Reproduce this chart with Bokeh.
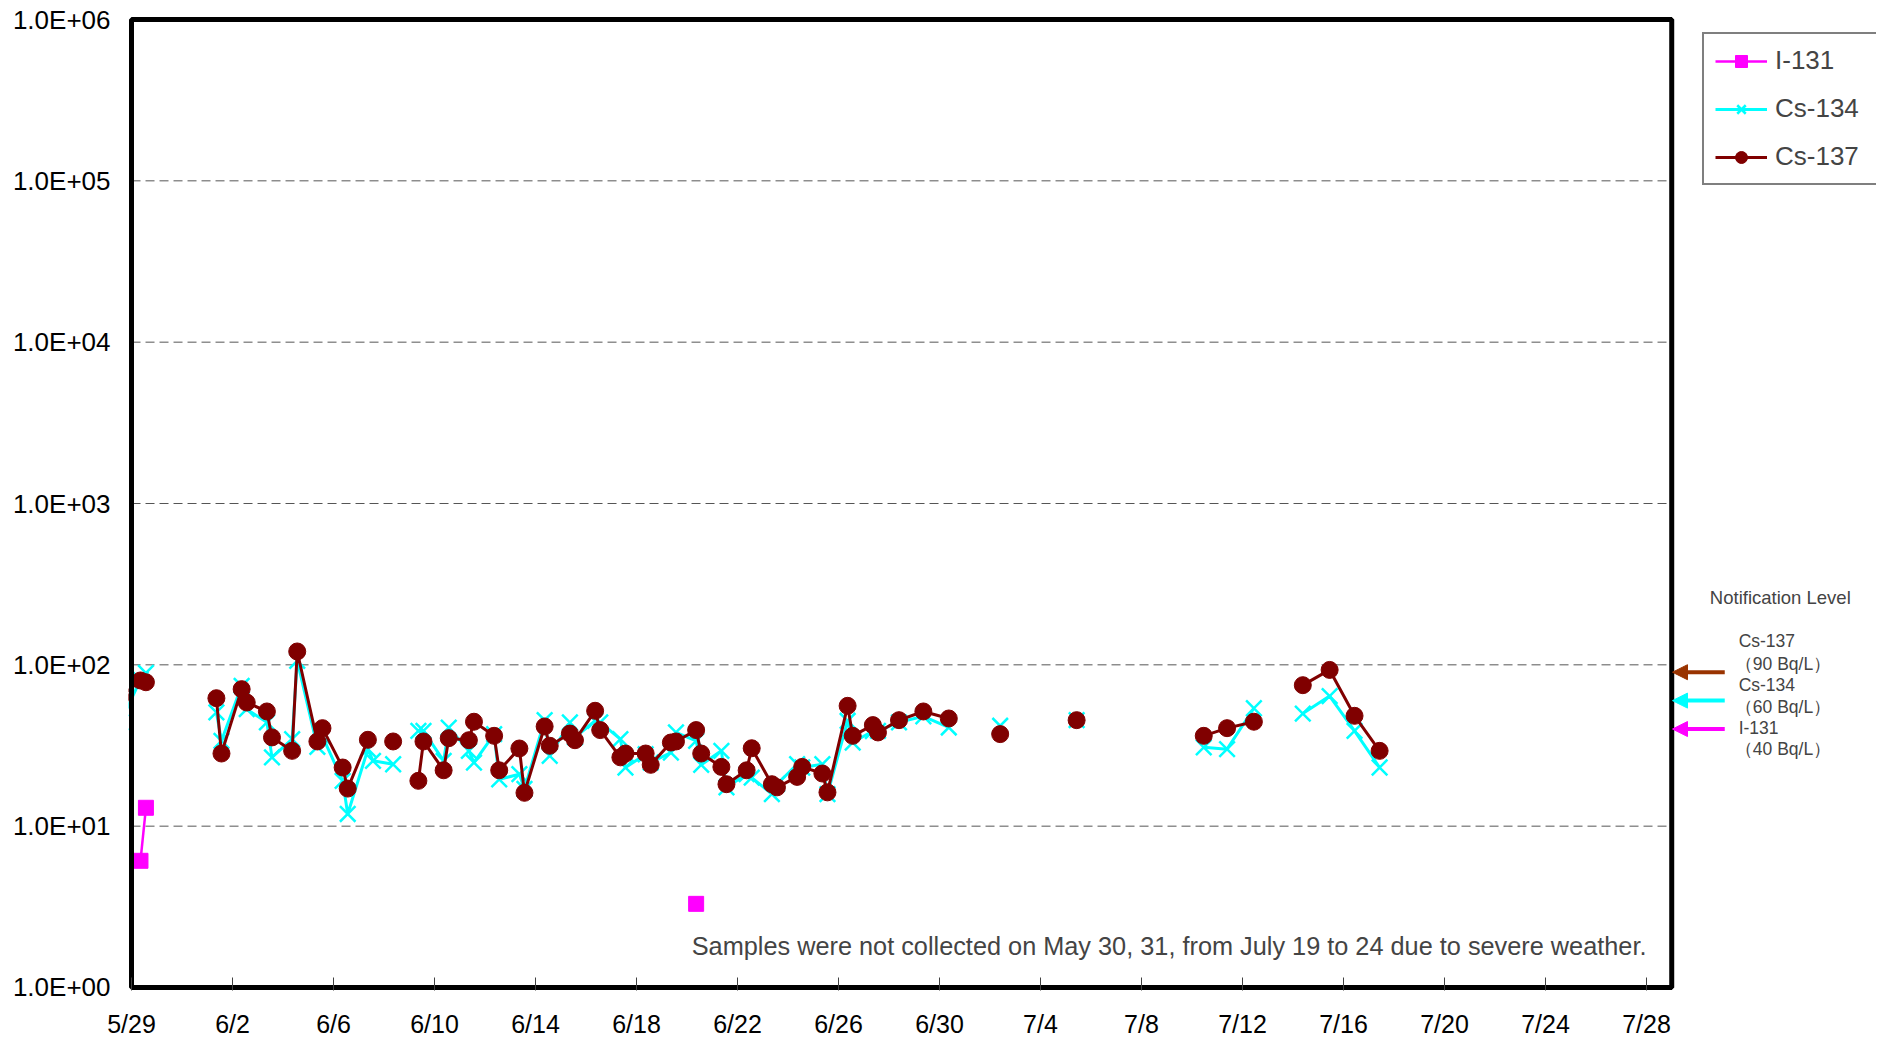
import numpy as np
import pandas as pd
from bokeh.plotting import figure
from bokeh.models import Range1d, FixedTicker, Legend, LegendItem, Label, Arrow, NormalHead
from bokeh.embed import file_html
from bokeh.resources import INLINE

# ---------------- data ----------------
sample_time = [
    "05/28 13:30", "05/29 08:30", "05/29 13:40", "05/30 08:40", "05/31 08:40",
    "06/01 08:40", "06/01 13:30", "06/02 08:40", "06/02 13:30", "06/03 08:40", "06/03 13:30",
    "06/04 08:40", "06/04 13:30", "06/05 08:40", "06/05 13:30", "06/06 08:40", "06/06 13:30",
    "06/07 08:40", "06/07 13:30", "06/08 08:40", "06/08 13:30", "06/09 08:40", "06/09 13:30",
    "06/10 08:40", "06/10 13:30", "06/11 08:40", "06/11 13:30", "06/12 08:40", "06/12 13:30",
    "06/13 08:40", "06/13 13:30", "06/14 08:40", "06/14 13:30", "06/15 08:40", "06/15 13:30",
    "06/16 08:40", "06/16 13:30", "06/17 08:40", "06/17 13:30", "06/18 08:40", "06/18 13:30",
    "06/19 08:40", "06/19 13:30", "06/20 08:40", "06/20 13:30", "06/21 08:40", "06/21 13:30",
    "06/22 08:40", "06/22 13:30", "06/23 08:40", "06/23 13:30", "06/24 08:40", "06/24 13:30",
    "06/25 08:40", "06/25 13:30", "06/26 08:40", "06/26 13:30", "06/27 08:40", "06/27 13:30",
    "06/28 09:30", "06/29 08:40", "06/30 08:50", "07/01 09:00", "07/02 09:40", "07/03 09:00",
    "07/04 09:00", "07/05 10:20", "07/06 09:00", "07/07 09:00", "07/08 09:00", "07/09 09:00",
    "07/10 11:10", "07/11 09:20", "07/12 10:50", "07/13 09:00", "07/14 09:20", "07/15 10:50",
    "07/16 10:30", "07/17 10:20",
]
N = None
i131 = [
    N, 6.1, 13, N, N,
    N, N, N, N, N, N,
    N, N, N, N, N, N,
    N, N, N, N, N, N,
    N, N, N, N, N, N,
    N, N, N, N, N, N,
    N, N, N, N, N, N,
    N, N, 3.3, N, N, N,
    N, N, N, N, N, N,
    N, N, N, N, N, N,
    N, N, N, N, N, N,
    N, N, N, N, N, N,
    N, N, N, N, N, N,
    N, N,
]
cs134 = [
    44, 81, 89, N, N,
    50.7, 33.8, 74.1, 53.1, 44, 26.7,
    34.6, 106, 31, 36, 19.1, 11.9,
    30, 25.4, 24.2, N, 39, 39,
    25.4, 40.8, 29.3, 24.8, 37.2, 19.5,
    21, 17, 45.4, 27.3, 43.9, 35.5,
    45, 44, 34.6, 23.1, 27.9, 24.8,
    28.6, 38.1, 33.8, 24, 29.3, 17.4,
    21, 20, 15.8, 18.2, 24.2, 23.1,
    24.2, 15.8, 45, 33, 38.9, 39,
    44, 48, 40.9, N, 41.9, N,
    N, 45.4, N, N, N, N,
    30.8, 30, 53.8, N, 49.9, 64,
    39, 23.1,
]
cs137 = [
    63, 80, 78, N, N,
    62.1, 28.2, 70.7, 58.4, 51.4, 35.5,
    29.3, 121, 33.5, 40.5, 23.1, 17.1,
    34.3, N, 33.5, N, 19.1, 33.5,
    22.2, 35.1, 34.1, 44.4, 36.3, 22.2,
    30.3, 16.1, 41.5, 31.5, 37.5, 34.1,
    51.9, 39.4, 26.7, 28.2, 28.2, 24,
    33, 33.5, 39.4, 28.2, 23.3, 18.2,
    22.2, 30.4, 18.2, 17.4, 20.2, 23.3,
    21.2, 16.2, 55.7, 36.3, 42.3, 38.1,
    45.4, 51.4, 46.5, N, 37.2, N,
    N, 45.4, N, N, N, N,
    36.3, 40.5, 44.4, N, 74.8, 93,
    48.3, 29.3,
]

x_tick_labels = ["5/29", "6/2", "6/6", "6/10", "6/14", "6/18", "6/22", "6/26",
                 "6/30", "7/4", "7/8", "7/12", "7/16", "7/20", "7/24", "7/28"]
y_tick_values = [1, 10, 100, 1000, 10000, 100000, 1000000]
y_tick_labels = ["1.0E+00", "1.0E+01", "1.0E+02", "1.0E+03", "1.0E+04", "1.0E+05", "1.0E+06"]

notify_names = ["Cs-137", "Cs-134", "I-131"]
notify_levels = [90, 60, 40]
notify_texts = ["（90  Bq/L）", "（60  Bq/L）", "（40  Bq/L）"]
notify_colors = ["#993300", "#00FFFF", "#FF00FF"]

note_text = "Samples were not collected on May 30, 31, from July 19 to 24 due to severe weather."

# ---------------- conversions ----------------
t = pd.to_datetime(["2013/" + s for s in sample_time], format="%Y/%m/%d %H:%M")
days = ((t - pd.Timestamp("2013-05-29")) / pd.Timedelta(days=1)).to_numpy()
i131_a = np.array(i131, dtype=float)
cs134_a = np.array(cs134, dtype=float)
cs137_a = np.array(cs137, dtype=float)
x_tick_days = [4 * k for k in range(len(x_tick_labels))]
area_end = x_tick_days[-1] + 1          # plot area spans 5/29 .. 7/29
y_lo, y_hi = y_tick_values[0], y_tick_values[-1]

FONT = "Liberation Sans"

# frame is wider than the boxed plot area so that the legend and the
# notification-level notes on the right are not clipped
p = figure(width=1876, height=1041, y_axis_type="log",
           x_range=Range1d(-0.12, 69.11),
           y_range=Range1d(10 ** -0.0186, 10 ** 6.0186),
           output_backend="svg", toolbar_location=None, title=None,
           min_border_left=128, min_border_top=16, min_border_right=0, min_border_bottom=51)
p.background_fill_color = "white"
p.border_fill_color = "white"
p.outline_line_color = None
p.xgrid.visible = False
p.ygrid.visible = False

# axes
p.xaxis.ticker = FixedTicker(ticks=x_tick_days)
p.xaxis.major_label_overrides = {d: lab for d, lab in zip(x_tick_days, x_tick_labels)}
p.xaxis.axis_line_color = None
p.xaxis.major_tick_in = 13
p.xaxis.major_tick_out = 0
p.xaxis.major_tick_line_color = "#404040"
p.xaxis.major_tick_line_width = 1
p.xaxis.minor_tick_line_color = None
p.xaxis.major_label_standoff = 19
p.xaxis.major_label_text_font = FONT
p.xaxis.major_label_text_font_size = "25px"
p.xaxis.major_label_text_color = "black"

p.yaxis.ticker = FixedTicker(ticks=y_tick_values)
p.yaxis.major_label_overrides = {v: lab for v, lab in zip(y_tick_values, y_tick_labels)}
p.yaxis.axis_line_color = None
p.yaxis.major_tick_line_color = None
p.yaxis.minor_tick_line_color = None
p.yaxis.major_label_standoff = 12
p.yaxis.major_label_text_font = FONT
p.yaxis.major_label_text_font_size = "26px"
p.yaxis.major_label_text_color = "black"

# dashed horizontal gridlines inside the boxed area
grid_vals = y_tick_values[1:-1]
p.segment(x0=[0] * len(grid_vals), x1=[area_end] * len(grid_vals), y0=grid_vals, y1=grid_vals,
          line_color="#555555", line_dash="9 5", line_width=1)

# series
l1 = p.line(days, i131_a, line_color="#FF00FF", line_width=2.5)
s1 = p.scatter(days, i131_a, marker="square", size=15, fill_color="#FF00FF", line_color="#FF00FF")
l2 = p.line(days, cs134_a, line_color="#00FFFF", line_width=3)
s2 = p.scatter(days, cs134_a, marker="x", size=22, line_color="#00FFFF", line_width=2.5)
l3 = p.line(days, cs137_a, line_color="#800000", line_width=3)
s3 = p.scatter(days, cs137_a, marker="circle", size=17, fill_color="#800000", line_color="#800000")

# boxed plot area border
p.quad(left=[0], right=[area_end], bottom=[y_lo], top=[y_hi],
       fill_color=None, line_color="black", line_width=5)

legend = Legend(items=[
    LegendItem(label="I-131", renderers=[l1, s1]),
    LegendItem(label="Cs-134", renderers=[l2, s2]),
    LegendItem(label="Cs-137", renderers=[l3, s3]),
], location=(1574, 805))
legend.margin = 0
legend.padding = 11
legend.spacing = 17
legend.glyph_width = 52
legend.glyph_height = 30
legend.label_height = 30
legend.label_width = 90
legend.label_standoff = 8
legend.label_text_font = FONT
legend.label_text_font_size = "26px"
legend.border_line_color = "black"
legend.border_line_width = 2
legend.background_fill_color = "white"
legend.background_fill_alpha = 1
p.add_layout(legend)

# notification level arrows and notes (right of the boxed area)
for lvl, col in zip(notify_levels, notify_colors):
    p.add_layout(Arrow(end=NormalHead(size=15, fill_color=col, line_color=col),
                       x_start=63.1, y_start=lvl, x_end=61.03, y_end=lvl,
                       line_color=col, line_width=4))

p.add_layout(Label(x=65.3, y=260, text="Notification Level", text_align="center",
                   text_baseline="middle", text_font=FONT, text_font_size="18.5px"))
name_y = [141, 75.2, 40.6]
unit_y = [101, 55, 30.1]
for nm, ut, ny, uy in zip(notify_names, notify_texts, name_y, unit_y):
    p.add_layout(Label(x=63.65, y=ny, text=nm, text_align="left", text_baseline="middle",
                       text_font=FONT, text_font_size="17.5px"))
    p.add_layout(Label(x=63.5, y=uy, text=ut, text_align="left", text_baseline="middle",
                       text_font=FONT, text_font_size="17.5px"))

p.add_layout(Label(x=60.0, y=1.80, text=note_text, text_align="right", text_baseline="middle",
                   text_font=FONT, text_font_size="25.3px"))

open("out.html", "w").write(file_html(p, INLINE))
